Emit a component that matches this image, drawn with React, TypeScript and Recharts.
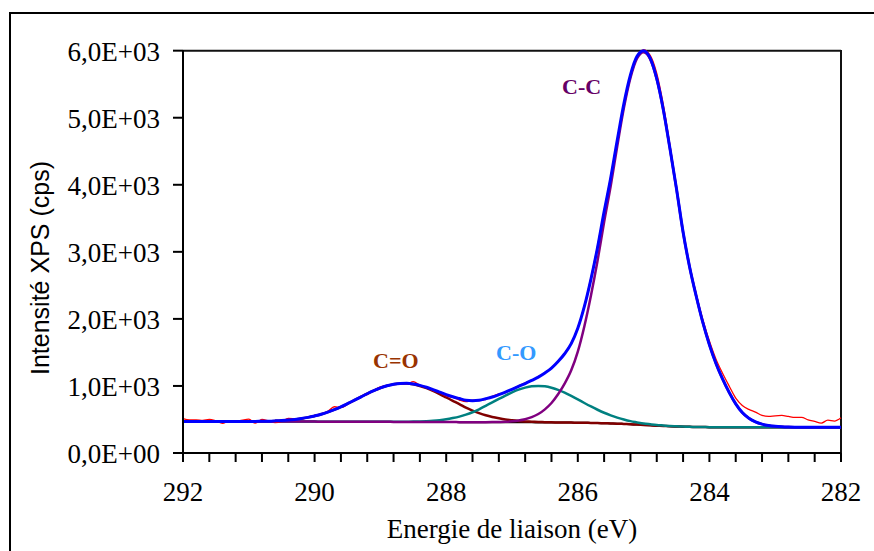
import { LineChart, Line, XAxis, YAxis, ReferenceLine } from "recharts";

// binding energy grid (eV), high to low
const energy = [
  292.0, 291.9, 291.8, 291.7, 291.6, 291.5, 291.4, 291.3, 291.2, 291.1,
  291.0, 290.9, 290.8, 290.7, 290.6, 290.5, 290.4, 290.3, 290.2, 290.1,
  290.0, 289.9, 289.8, 289.7, 289.6, 289.5, 289.4, 289.3, 289.2, 289.1,
  289.0, 288.9, 288.8, 288.7, 288.6, 288.5, 288.4, 288.3, 288.2, 288.1,
  288.0, 287.9, 287.8, 287.7, 287.6, 287.5, 287.4, 287.3, 287.2, 287.1,
  287.0, 286.9, 286.8, 286.7, 286.6, 286.5, 286.4, 286.3, 286.2, 286.1,
  286.0, 285.9, 285.8, 285.7, 285.6, 285.5, 285.4, 285.3, 285.2, 285.1,
  285.0, 284.9, 284.8, 284.7, 284.6, 284.5, 284.4, 284.3, 284.2, 284.1,
  284.0, 283.9, 283.8, 283.7, 283.6, 283.5, 283.4, 283.3, 283.2, 283.1,
  283.0, 282.9, 282.8, 282.7, 282.6, 282.5, 282.4, 282.3, 282.2, 282.1,
  282.0,
];

// measured spectrum (red)
const raw = [
  512, 492, 495, 488, 502, 478, 442, 478, 470, 490,
  505, 445, 500, 478, 452, 470, 515, 510, 505, 535,
  560, 585, 622, 690, 680, 725, 790, 845, 870, 935,
  985, 1005, 1020, 1035, 1030, 1065, 1010, 985, 930, 900,
  850, 830, 790, 765, 790, 780, 800, 845, 880, 900,
  955, 1000, 1045, 1080, 1140, 1195, 1270, 1360, 1490, 1640,
  1870, 2200, 2620, 3090, 3610, 4120, 4670, 5190, 5620, 5900,
  6010, 5930, 5660, 5190, 4590, 3960, 3300, 2790, 2370, 1990,
  1670, 1400, 1190, 1000, 820, 710, 650, 610, 560, 545,
  555, 560, 545, 530, 530, 495, 470, 445, 490, 476,
  525,
];

// total fit (blue)
const envelope = [
  468, 468, 468, 468, 468, 468, 468, 468, 468, 469,
  470, 471, 473, 475, 479, 484, 491, 501, 514, 531,
  553, 578, 610, 647, 689, 736, 785, 834, 884, 930,
  970, 1002, 1026, 1038, 1039, 1029, 1008, 980, 945, 908,
  871, 839, 812, 787, 780, 787, 809, 835, 870, 908,
  950, 993, 1036, 1083, 1132, 1193, 1265, 1363, 1480, 1632,
  1860, 2186, 2594, 3065, 3600, 4101, 4668, 5209, 5640, 5917,
  6000, 5888, 5582, 5120, 4543, 3939, 3295, 2771, 2338, 1947,
  1615, 1335, 1104, 904, 733, 603, 518, 463, 430, 410,
  398, 391, 387, 385, 384, 383, 383, 383, 383, 383,
  383,
];

// C-C component (purple)
const peakCC = [
  468, 468, 468, 468, 468, 468, 468, 468, 468, 468,
  468, 468, 468, 468, 468, 468, 468, 468, 468, 468,
  468, 467, 467, 467, 467, 467, 467, 466, 466, 466,
  465, 465, 464, 464, 464, 463, 463, 462, 462, 461,
  461, 461, 460, 460, 460, 460, 460, 461, 463, 466,
  473, 485, 504, 535, 581, 651, 745, 875, 1034, 1233,
  1512, 1891, 2349, 2867, 3444, 3981, 4578, 5143, 5593, 5884,
  5978, 5873, 5573, 5114, 4539, 3936, 3293, 2770, 2338, 1947,
  1615, 1335, 1104, 904, 733, 603, 518, 463, 430, 410,
  398, 391, 387, 385, 384, 383, 383, 383, 383, 383,
  383,
];

// C-O component (teal)
const peakCO = [
  468, 468, 468, 468, 468, 468, 468, 468, 468, 468,
  468, 468, 468, 468, 468, 468, 468, 468, 468, 468,
  468, 467, 467, 467, 467, 467, 467, 466, 466, 466,
  465, 465, 465, 466, 467, 468, 471, 475, 481, 490,
  503, 521, 543, 572, 608, 652, 704, 754, 807, 857,
  904, 945, 975, 995, 1001, 994, 973, 942, 900, 852,
  800, 746, 694, 645, 600, 561, 528, 499, 475, 457,
  440, 428, 417, 410, 403, 399, 395, 391, 388, 387,
  385, 385, 384, 384, 383, 383, 383, 383, 383, 383,
  383, 383, 383, 383, 383, 383, 383, 383, 383, 383,
  383,
];

// C=O component (maroon)
const peakCdO = [
  468, 468, 468, 468, 468, 468, 468, 468, 468, 469,
  470, 471, 473, 475, 479, 484, 491, 501, 514, 531,
  553, 578, 610, 647, 689, 736, 785, 834, 884, 930,
  970, 1002, 1025, 1036, 1036, 1024, 1000, 967, 926, 879,
  829, 779, 729, 675, 632, 595, 563, 538, 518, 501,
  489, 479, 471, 467, 462, 460, 457, 456, 454, 453,
  452, 451, 449, 447, 444, 441, 438, 433, 428, 424,
  418, 413, 408, 404, 399, 396, 393, 390, 388, 387,
  385, 385, 384, 384, 383, 383, 383, 383, 383, 383,
  383, 383, 383, 383, 383, 383, 383, 383, 383, 383,
  383,
];

// Shirley background
const background = [
  468, 468, 468, 468, 468, 468, 468, 468, 468, 468,
  468, 468, 468, 468, 468, 468, 468, 468, 468, 468,
  468, 467, 467, 467, 467, 467, 467, 466, 466, 466,
  465, 465, 464, 464, 464, 463, 463, 462, 462, 461,
  461, 461, 460, 460, 460, 460, 459, 459, 459, 458,
  458, 458, 457, 457, 456, 456, 455, 455, 454, 453,
  452, 451, 449, 447, 444, 441, 438, 433, 428, 424,
  418, 413, 408, 404, 399, 396, 393, 390, 388, 387,
  385, 385, 384, 384, 383, 383, 383, 383, 383, 383,
  383, 383, 383, 383, 383, 383, 383, 383, 383, 383,
  383,
];

const xTicks = [
  292, 291.6, 291.2, 290.8, 290.4, 290, 289.6, 289.2, 288.8, 288.4,
  288, 287.6, 287.2, 286.8, 286.4, 286, 285.6, 285.2, 284.8, 284.4,
  284, 283.6, 283.2, 282.8, 282.4, 282,
];
const yTicks = [0, 1000, 2000, 3000, 4000, 5000, 6000];

const annotations = [
  { text: "C-C", x: 562, y: 94, color: "#660066" },
  { text: "C=O", x: 373, y: 368, color: "#993300" },
  { text: "C-O", x: 496, y: 360, color: "#3399ff" },
];

const SERIF = "'Liberation Serif', 'Times New Roman', serif";

function formatY(v: number): string {
  if (v === 0) return "0,0E+00";
  return `${(v / 1000).toFixed(1).replace(".", ",")}E+03`;
}

function XTick(props: any) {
  const { x, y, payload } = props;
  const v = Number(payload.value);
  const r = Math.round(v);
  if (Math.abs(v - r) > 1e-6 || r % 2 !== 0) return null;
  return (
    <text x={x} y={y + 37} textAnchor="middle" fontFamily={SERIF} fontSize={27} fill="#000">
      {r}
    </text>
  );
}

function YTick(props: any) {
  const { x, y, payload } = props;
  return (
    <text x={x - 11} y={y + 10} textAnchor="end" fontFamily={SERIF} fontSize={27} fill="#000">
      {formatY(Number(payload.value))}
    </text>
  );
}

export default function App() {
  const data = energy.map((e, i) => ({
    energy: e,
    raw: raw[i],
    fit: envelope[i],
    cc: peakCC[i],
    co: peakCO[i],
    cdo: peakCdO[i],
    bg: background[i],
  }));

  return (
    <div
      style={{
        position: "absolute",
        left: 0,
        top: 0,
        width: 874,
        height: 551,
        background: "#fff",
        overflow: "hidden",
      }}
    >
      <div
        style={{
          position: "absolute",
          left: 9,
          top: 12,
          width: 900,
          height: 600,
          borderLeft: "2px solid #000",
          borderTop: "2px solid #000",
        }}
      />
      <div style={{ position: "absolute", left: 0, top: 0 }}>
        <LineChart
          width={874}
          height={551}
          data={data}
          margin={{ top: 50, right: 33, left: 103, bottom: 38 }}
        >
          <XAxis
            dataKey="energy"
            type="number"
            domain={[282, 292]}
            reversed
            ticks={xTicks}
            interval={0}
            height={60}
            tickSize={9}
            axisLine={{ stroke: "#000", strokeWidth: 2 }}
            tickLine={{ stroke: "#000", strokeWidth: 2 }}
            tick={<XTick />}
          />
          <YAxis
            type="number"
            domain={[0, 6000]}
            ticks={yTicks}
            interval={0}
            width={80}
            tickSize={10}
            axisLine={{ stroke: "#000", strokeWidth: 2 }}
            tickLine={{ stroke: "#000", strokeWidth: 2 }}
            tick={<YTick />}
          />
          <ReferenceLine y={6000} stroke="#111" strokeWidth={2} />
          <ReferenceLine x={282} stroke="#111" strokeWidth={2} />
          <Line type="monotone" dataKey="bg" stroke="#1a0000" strokeWidth={2} dot={false} isAnimationActive={false} />
          <Line type="monotone" dataKey="cdo" stroke="#800000" strokeWidth={2.5} dot={false} isAnimationActive={false} />
          <Line type="monotone" dataKey="co" stroke="#008080" strokeWidth={2.5} dot={false} isAnimationActive={false} />
          <Line type="monotone" dataKey="cc" stroke="#800080" strokeWidth={2.5} dot={false} isAnimationActive={false} />
          <Line type="monotone" dataKey="raw" stroke="#ff0000" strokeWidth={1.3} dot={false} isAnimationActive={false} />
          <Line type="monotone" dataKey="fit" stroke="#0000ff" strokeWidth={3} dot={false} isAnimationActive={false} />
        </LineChart>
      </div>
      <svg
        width={874}
        height={551}
        style={{ position: "absolute", left: 0, top: 0, pointerEvents: "none" }}
      >
        {annotations.map((a) => (
          <text key={a.text} x={a.x} y={a.y} fontFamily={SERIF} fontWeight="bold" fontSize={22} fill={a.color}>
            {a.text}
          </text>
        ))}
        <text
          x={512}
          y={538}
          textAnchor="middle"
          fontFamily={SERIF}
          fontSize={27}
          fill="#000"
        >
          Energie de liaison (eV)
        </text>
        <text
          x={49}
          y={268}
          textAnchor="middle"
          fontFamily="'Liberation Sans', Arial, sans-serif"
          fontSize={25}
          fill="#000"
          transform="rotate(-90, 49, 268)"
        >
          Intensité XPS (cps)
        </text>
      </svg>
    </div>
  );
}
